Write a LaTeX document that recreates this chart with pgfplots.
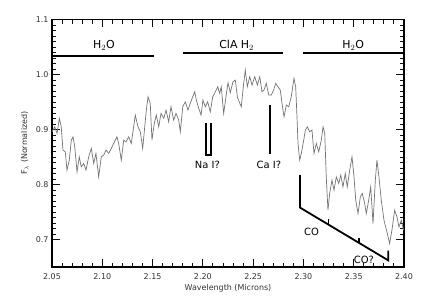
\documentclass[border=0pt]{standalone}
\usepackage{pgfplots}
\pgfplotsset{compat=1.18}
\usepackage{fontspec}
\setmainfont{DejaVu Sans}
\definecolor{tk}{RGB}{15,15,15}
\begin{document}
\begin{tikzpicture}
\useasboundingbox (0,0) rectangle (421bp,301bp);
\begin{axis}[
  at={(52bp,34bp)}, anchor=south west,
  width=352bp, height=247.5bp, scale only axis,
  xmin=2.05, xmax=2.40, ymin=0.65, ymax=1.1,
  xtick={2.05,2.10,2.15,2.20,2.25,2.30,2.35,2.40},
  xticklabels={2.05,2.10,2.15,2.20,2.25,2.30,2.35,2.40},
  ytick={0.7,0.8,0.9,1.0,1.1},
  yticklabels={0.7,0.8,0.9,1.0,1.1},
  minor x tick num=4, minor y tick num=9,
  tick pos=both,
  tick align=inside,
  major tick length=7.5bp, minor tick length=4bp,
  every major tick/.style={draw=tk, line width=1.1bp},
  every minor tick/.style={draw=tk, line width=0.9bp},
  axis line style={line width=1.2bp},
  tick label style={font=\fontsize{8}{9}\selectfont, text=black!80},
  xticklabel style={yshift=-3bp},
  xlabel={Wavelength (Microns)},
  ylabel={F$_\lambda$ (Normalized)},
  label style={font=\fontsize{8}{9}\selectfont, text=black!80},
  xlabel style={at={(axis description cs:0.5,0)}, anchor=center, yshift=-21bp},
  ylabel style={at={(axis description cs:-0.077,0.5)}, anchor=center},
  clip=false,
]
\addplot[black!55, line width=0.7bp] coordinates {
(2.0500,0.8958) (2.0527,0.9049) (2.0550,0.8929) (2.0573,0.9202) (2.0592,0.9049)
(2.0609,0.8625) (2.0632,0.8594) (2.0649,0.8261) (2.0672,0.8443) (2.0692,0.8807)
(2.0709,0.8867) (2.0726,0.8685) (2.0749,0.8230) (2.0771,0.8503) (2.0791,0.8321)
(2.0815,0.8383) (2.0838,0.8261) (2.0865,0.8503) (2.0891,0.8656) (2.0915,0.8383)
(2.0937,0.8565) (2.0964,0.8139) (2.0990,0.8503) (2.1014,0.8534) (2.1037,0.8625)
(2.1064,0.8565) (2.1090,0.8656) (2.1113,0.8747) (2.1146,0.8867) (2.1163,0.8747)
(2.1189,0.8443) (2.1213,0.8807) (2.1236,0.8776) (2.1263,0.8867) (2.1288,0.8747)
(2.1312,0.9049) (2.1328,0.9262) (2.1355,0.9049) (2.1378,0.8958) (2.1402,0.8656)
(2.1422,0.9049) (2.1438,0.9353) (2.1455,0.9595) (2.1477,0.9475) (2.1494,0.8807)
(2.1517,0.9111) (2.1537,0.9262) (2.1561,0.9049) (2.1584,0.9293) (2.1611,0.9202)
(2.1634,0.9353) (2.1660,0.9140) (2.1683,0.9413) (2.1710,0.9171) (2.1733,0.9293)
(2.1760,0.9171) (2.1776,0.8958) (2.1800,0.9413) (2.1825,0.9504) (2.1852,0.9353)
(2.1875,0.9475) (2.1899,0.9595) (2.1919,0.9686) (2.1935,0.9535) (2.1959,0.9384)
(2.1982,0.9262) (2.2001,0.9535) (2.2024,0.9413) (2.2048,0.9504) (2.2074,0.9322)
(2.2098,0.9595) (2.2124,0.9686) (2.2148,0.9777) (2.2167,0.9657) (2.2183,0.9777)
(2.2207,0.9293) (2.2230,0.9595) (2.2250,0.9850) (2.2273,0.9670) (2.2299,0.9868)
(2.2323,0.9899) (2.2343,0.9595) (2.2367,0.9475) (2.2382,0.9413) (2.2406,0.9839)
(2.2422,1.0081) (2.2442,0.9777) (2.2466,0.9959) (2.2489,0.9808) (2.2516,0.9959)
(2.2542,0.9808) (2.2566,0.9959) (2.2588,0.9686) (2.2608,0.9717) (2.2631,0.9839)
(2.2655,0.9626) (2.2681,0.9626) (2.2704,0.9717) (2.2724,0.9839) (2.2747,0.9777)
(2.2770,0.9717) (2.2787,0.9475) (2.2807,0.9231) (2.2830,0.9444) (2.2854,0.9413)
(2.2879,0.9595) (2.2906,0.9930) (2.2923,0.9777) (2.2936,0.9231) (2.2946,0.8747)
(2.2963,0.8443) (2.2979,0.8565) (2.3003,0.8807) (2.3019,0.8989) (2.3039,0.9049)
(2.3062,0.8958) (2.3085,0.8989) (2.3105,0.8565) (2.3128,0.8747) (2.3152,0.8594)
(2.3178,0.8807) (2.3195,0.9049) (2.3212,0.8929) (2.3227,0.8139) (2.3244,0.7533)
(2.3261,0.7837) (2.3284,0.8079) (2.3304,0.7897) (2.3327,0.8139) (2.3351,0.8019)
(2.3371,0.8170) (2.3393,0.7957) (2.3416,0.8201) (2.3436,0.7957) (2.3460,0.8261)
(2.3483,0.8503) (2.3503,0.8139) (2.3520,0.7715) (2.3543,0.7473) (2.3566,0.7775)
(2.3585,0.7837) (2.3609,0.7655) (2.3625,0.7473) (2.3649,0.7715) (2.3669,0.7957)
(2.3692,0.7291) (2.3715,0.8079) (2.3731,0.8443) (2.3751,0.8139) (2.3774,0.7715)
(2.3801,0.7352) (2.3834,0.7109) (2.3857,0.6927) (2.3880,0.7169) (2.3907,0.7533)
(2.3930,0.7411) (2.3950,0.7229) (2.3973,0.7351) (2.3997,0.7169)
};
\addplot[black, line width=1.8bp] coordinates {(2.05,1.0336) (2.151,1.0336)};
\addplot[black, line width=1.8bp] coordinates {(2.180,1.0385) (2.280,1.0385)};
\addplot[black, line width=1.8bp] coordinates {(2.300,1.0385) (2.400,1.0385)};
\addplot[black, line width=1.8bp] coordinates {(2.2031,0.911) (2.2031,0.853) (2.2081,0.853) (2.2081,0.911)};
\addplot[black, line width=1.8bp] coordinates {(2.2667,0.944) (2.2667,0.856)};
\addplot[black, line width=1.8bp] coordinates {(2.2966,0.817) (2.2966,0.758) (2.3844,0.662) (2.3844,0.680)};
\addplot[black, line width=1.5bp] coordinates {(2.3247,0.727) (2.3247,0.738)};
\addplot[black, line width=1.5bp] coordinates {(2.3552,0.694) (2.3552,0.703)};
\node[anchor=base, font=\fontsize{11}{12}\selectfont] at (axis cs:2.1017,1.047) {H$_2$O};
\node[anchor=base, font=\fontsize{11}{12}\selectfont] at (axis cs:2.2336,1.047) {ClA H$_2$};
\node[anchor=base, font=\fontsize{11}{12}\selectfont] at (axis cs:2.3495,1.047) {H$_2$O};
\node[anchor=base, font=\fontsize{10}{12}\selectfont] at (axis cs:2.2045,0.829) {Na I?};
\node[anchor=base, font=\fontsize{10}{12}\selectfont] at (axis cs:2.2657,0.829) {Ca I?};
\node[anchor=base, font=\fontsize{10}{12}\selectfont] at (axis cs:2.3081,0.708) {CO};
\node[anchor=base, font=\fontsize{10}{12}\selectfont] at (axis cs:2.3602,0.656) {CO?};
\end{axis}
\end{tikzpicture}
\end{document}
